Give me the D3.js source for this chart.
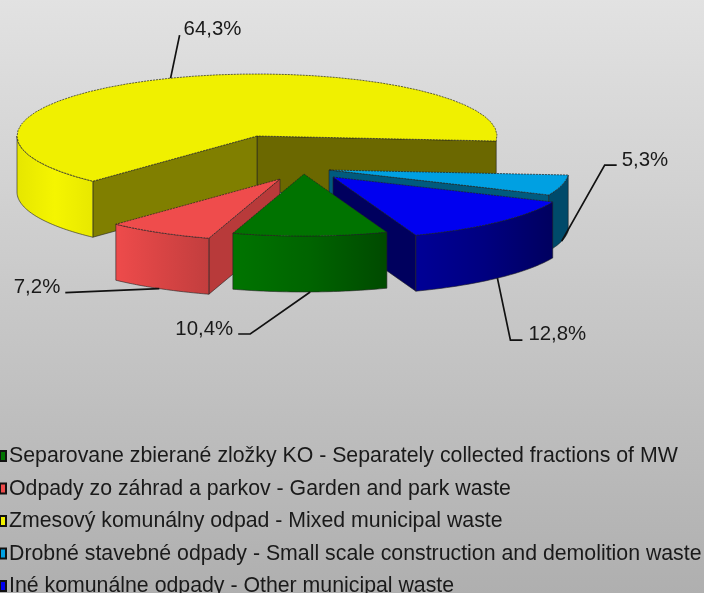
<!DOCTYPE html>
<html lang="en">
<head>
<meta charset="utf-8">
<script src="https://cdn.jsdelivr.net/npm/d3@7"></script>
<style>
html, body { margin: 0; padding: 0; overflow: hidden; }
svg { display: block; filter: blur(0.4px); }
text { font-family: "Liberation Sans", Arial, sans-serif; fill: #1a1a1a; }
</style>
</head>
<body>
<script>
// values, legend order
var names = [
  "Separovane zbierané zložky KO - Separately collected fractions of MW",
  "Odpady zo záhrad a parkov - Garden and park waste",
  "Zmesový komunálny odpad - Mixed municipal waste",
  "Drobné stavebné odpady - Small scale construction and demolition waste",
  "Iné komunálne odpady - Other municipal waste"
];
var values = [10.4, 7.2, 64.3, 5.3, 12.8];
var labels = ["10,4%", "7,2%", "64,3%", "5,3%", "12,8%"];

// colours per slice
var topColors = ["#007300", "#ef4c4c", "#f0f000", "#00a0e2", "#0000f0"];
var cutColors = ["#005000", "#b83a3a", "#807f00", "#005a7e", "#00005e"];
var backCutColors = [null, null, "#6b6800", null, null];
var wallStart = ["#007400", "#ee4b4b", "#e6e600", "#004a6a", "#000096"];
var wallMid = ["#006400", "#d84444", "#f5f500", "#004a6a", "#000080"];
var wallEnd = ["#004a00", "#c23e3e", "#e8e800", "#004a6a", "#00005f"];

var width = 704, height = 593;
var rx = 240, ry = 62, depth = 56;
var cx = 257, cy = 136;

// how far each slice is pulled out of the pie
var shiftX = [47, 23, 0, 72, 76];
var shiftY = [38, 43, 0, 34, 41];

// leader elbow relative to the anchor on the slice, then the tail
var elbowX = [-60, -94, 9, 43, 13];
var elbowY = [42, 4, -43, -76, 62];
var tailX = [-12, 0, 0, 12, 12];

// label position relative to the end of the leader
var labelDx = [-5, -5, 4, 5, 6];
var labelDy = [-6, -7, -7, -6, -7];
var labelAnchor = ["end", "end", "start", "start", "start"];

var svg = d3.select("body").append("svg")
  .attr("width", width)
  .attr("height", height);

var defs = svg.append("defs");

var bg = defs.append("linearGradient")
  .attr("id", "bg")
  .attr("x1", "0%").attr("y1", "0%")
  .attr("x2", "0%").attr("y2", "100%");
bg.append("stop").attr("offset", "0%").attr("stop-color", "#e2e2e2");
bg.append("stop").attr("offset", "100%").attr("stop-color", "#afafaf");

svg.append("rect")
  .attr("x", -2).attr("y", -2)
  .attr("width", width + 4)
  .attr("height", height + 4)
  .style("fill", "url(#bg)");

// pie angles, first slice starts where it does in the picture
var startDeg = 159.8;
var pie = d3.pie()
  .sort(null)
  .startAngle(startDeg * Math.PI / 180)
  .endAngle((startDeg + 360) * Math.PI / 180);
var arcs = pie(values);

var x = function(i, a) { return cx + shiftX[i] + rx * Math.sin(a); };
var y = function(i, a) { return cy + shiftY[i] - ry * Math.cos(a); };

var line = d3.line();

function rimPoints(i, a0, a1, dy) {
  return d3.range(0, 41).map(function(k) {
    var a = a0 + (a1 - a0) * k / 40;
    return [x(i, a), y(i, a) + dy];
  });
}

function cutFace(i, a) {
  var ax = cx + shiftX[i], ay = cy + shiftY[i];
  return line([[ax, ay], [x(i, a), y(i, a)], [x(i, a), y(i, a) + depth], [ax, ay + depth]]) + "Z";
}

// front part of the outer wall only, angles may run past a full turn
function frontWall(i, a0, a1) {
  var turn = 2 * Math.PI;
  var shift = a0 >= turn ? turn : 0;
  var from = Math.max(a0 - shift, Math.PI / 2), to = Math.min(a1 - shift, 3 * Math.PI / 2);
  if (to <= from) return null;
  return line(rimPoints(i, from, to, 0).concat(rimPoints(i, to, from, depth))) + "Z";
}

var order = [2, 3, 4, 1, 0];

order.forEach(function(i) {
  var d = arcs[i];
  var g = svg.append("g").attr("class", "slice");

  var grad = defs.append("linearGradient")
    .attr("id", "wall" + i)
    .attr("x1", "0%").attr("y1", "0%")
    .attr("x2", "100%").attr("y2", "0%");
  grad.append("stop").attr("offset", "0%").attr("stop-color", wallStart[i]);
  grad.append("stop").attr("offset", "50%").attr("stop-color", wallMid[i]);
  grad.append("stop").attr("offset", "100%").attr("stop-color", wallEnd[i]);

  // cut faces that look towards the viewer
  if (Math.sin(d.endAngle) > 0) {
    g.append("path")
      .attr("d", cutFace(i, d.endAngle))
      .attr("fill", backCutColors[i] || cutColors[i])
      .attr("stroke", "#222").attr("stroke-width", 0.6);
  }
  if (Math.sin(d.startAngle) < 0) {
    g.append("path")
      .attr("d", cutFace(i, d.startAngle))
      .attr("fill", cutColors[i])
      .attr("stroke", "#222").attr("stroke-width", 0.6);
  }

  var wall = frontWall(i, d.startAngle, d.endAngle);
  if (wall) {
    g.append("path")
      .attr("d", wall)
      .attr("fill", "url(#wall" + i + ")")
      .attr("stroke", "#222").attr("stroke-width", 0.6);
  }

  // top of the slice
  var ax = cx + shiftX[i], ay = cy + shiftY[i];
  g.append("path")
    .attr("d", line([[ax, ay]].concat(rimPoints(i, d.startAngle, d.endAngle, 0))) + "Z")
    .attr("fill", topColors[i])
    .attr("stroke", "#222")
    .attr("stroke-width", 0.7)
    .attr("stroke-dasharray", "2,1");
});

// leaders and percent labels
arcs.forEach(function(d, i) {
  var mid = (d.startAngle + d.endAngle) / 2;
  var onTop = Math.cos(mid) > 0;
  var px = x(i, mid), py = y(i, mid) + (onTop ? 0 : depth);
  var ex = px + elbowX[i], ey = py + elbowY[i];

  svg.append("path")
    .attr("d", line([[px, py], [ex, ey], [ex + tailX[i], ey]]))
    .attr("fill", "none")
    .attr("stroke", "#111")
    .attr("stroke-width", 1.7);

  svg.append("text")
    .attr("x", ex + tailX[i] + labelDx[i])
    .attr("y", ey + labelDy[i])
    .attr("dy", "0.35em")
    .attr("text-anchor", labelAnchor[i])
    .style("font-size", "20.4px")
    .text(labels[i]);
});

// legend
var legendY = d3.scalePoint()
  .domain(d3.range(names.length))
  .range([456, 586]);

var legend = svg.selectAll("g.legend")
  .data(names)
  .enter()
  .append("g")
  .attr("class", "legend")
  .attr("transform", function(d, i) { return "translate(0," + legendY(i) + ")"; });

legend.append("rect")
  .attr("x", 0).attr("y", -5)
  .attr("width", 6).attr("height", 10)
  .attr("fill", function(d, i) { return topColors[i]; })
  .attr("stroke", "#111")
  .attr("stroke-width", 2);

legend.append("text")
  .attr("x", 9)
  .attr("y", -1)
  .attr("dy", "0.35em")
  .style("font-size", "21.3px")
  .text(function(d) { return d; });
</script>
</body>
</html>
